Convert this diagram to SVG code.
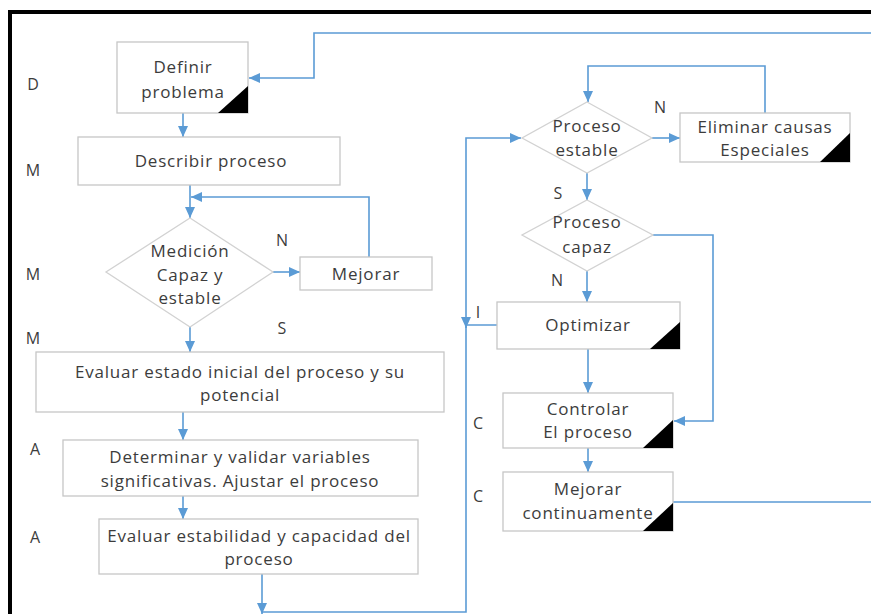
<svg xmlns="http://www.w3.org/2000/svg" width="871" height="614" viewBox="0 0 871 614">
  <style>
    .box { fill: #ffffff; stroke: #c6c6c6; stroke-width: 1.3; }
    .dia { fill: #ffffff; stroke: #d2d2d2; stroke-width: 1.3; }
    .tri { fill: #000000; }
    .t { font-family: "Open Sans", "Noto Sans", "Liberation Sans", sans-serif; font-size: 17px; letter-spacing: 0.8px; fill: #3c3c3c; text-anchor: middle; }
    .lab { font-family: "Open Sans", "Noto Sans", "Liberation Sans", sans-serif; font-size: 16px; fill: #3c3c3c; text-anchor: middle; }
    .con { fill: none; stroke: #5b9bd5; stroke-width: 1.6; marker-end: url(#arr); }
  </style>
  <defs>
    <marker id="arr" markerUnits="userSpaceOnUse" markerWidth="11" markerHeight="10" refX="11" refY="5" orient="auto">
      <path d="M0,0 L11,5 L0,10 z" fill="#5b9bd5"/>
    </marker>
  </defs>

  <rect x="0" y="0" width="871" height="614" fill="#ffffff"/>
  <!-- frame -->
  <rect x="10" y="12" width="900" height="700" fill="none" stroke="#000000" stroke-width="4"/>

  <!-- phase letters -->
  <g id="phases">
    <text class="lab" x="33" y="90">D</text>
    <text class="lab" x="33" y="176">M</text>
    <text class="lab" x="33" y="280">M</text>
    <text class="lab" x="33" y="344">M</text>
    <text class="lab" x="35" y="455">A</text>
    <text class="lab" x="35" y="543">A</text>
    <text class="lab" x="478" y="429">C</text>
    <text class="lab" x="478" y="502">C</text>
  </g>

  <!-- branch labels -->
  <g id="branch-labels">
    <text class="lab" x="282" y="246">N</text>
    <text class="lab" x="282" y="334">S</text>
    <text class="lab" x="660" y="113">N</text>
    <text class="lab" x="558" y="199">S</text>
    <text class="lab" x="557" y="286">N</text>
    <text class="lab" x="478" y="318">I</text>
  </g>

  <!-- connectors -->
  <g id="connectors">
    <path class="con" d="M673,502 H885 V33 H314 V78 H249"/>
    <path class="con" d="M183,113 V137"/>
    <path class="con" d="M190,185 V218"/>
    <path class="con" d="M273,272 H300"/>
    <path class="con" d="M369,257 V197 H191"/>
    <path class="con" d="M190,327 V352"/>
    <path class="con" d="M183,412 V440"/>
    <path class="con" d="M183,496 V519"/>
    <path class="con" d="M262,574 V614"/>
    <path class="con" d="M262,612 H466 V138 H521"/>
    <path class="con" d="M497,325 H466 V328"/>
    <path class="con" d="M652,138 H680"/>
    <path class="con" d="M765,113 V66 H588 V102"/>
    <path class="con" d="M587,173 V200"/>
    <path class="con" d="M587,271 V302"/>
    <path class="con" d="M653,235 H713 V421 H674"/>
    <path class="con" d="M588,349 V393"/>
    <path class="con" d="M588,448 V472"/>
  </g>

  <g id="definir">
    <rect class="box" x="117" y="42" width="131" height="71"/>
    <polygon class="tri" points="218,113 248,113 248,86"/>
    <text class="t" x="183" y="73">Definir</text>
    <text class="t" x="183" y="98">problema</text>
  </g>

  <g id="describir">
    <rect class="box" x="78" y="137" width="262" height="48"/>
    <text class="t" x="211" y="167">Describir proceso</text>
  </g>

  <g id="medicion">
    <polygon class="dia" points="190,218 273,272 190,327 106,272"/>
    <text class="t" x="190" y="257">Medición</text>
    <text class="t" x="190" y="281">Capaz y</text>
    <text class="t" x="190" y="304">estable</text>
  </g>

  <g id="mejorar">
    <rect class="box" x="300" y="257" width="132" height="33"/>
    <text class="t" x="366" y="280">Mejorar</text>
  </g>

  <g id="evaluar-estado">
    <rect class="box" x="36" y="352" width="408" height="60"/>
    <text class="t" x="240" y="378">Evaluar estado inicial del proceso y su</text>
    <text class="t" x="240" y="401">potencial</text>
  </g>

  <g id="determinar">
    <rect class="box" x="63" y="440" width="355" height="56"/>
    <text class="t" x="240" y="463">Determinar y validar variables</text>
    <text class="t" x="240" y="487">significativas. Ajustar el proceso</text>
  </g>

  <g id="evaluar-estabilidad">
    <rect class="box" x="99" y="519" width="319" height="55"/>
    <text class="t" x="259" y="542">Evaluar estabilidad y capacidad del</text>
    <text class="t" x="259" y="565">proceso</text>
  </g>

  <g id="proceso-estable">
    <polygon class="dia" points="587,102 652,138 587,173 522,138"/>
    <text class="t" x="587" y="132">Proceso</text>
    <text class="t" x="587" y="156">estable</text>
  </g>

  <g id="eliminar">
    <rect class="box" x="680" y="113" width="170" height="49"/>
    <polygon class="tri" points="820,162 850,162 850,133"/>
    <text class="t" x="765" y="133">Eliminar causas</text>
    <text class="t" x="765" y="156">Especiales</text>
  </g>

  <g id="proceso-capaz">
    <polygon class="dia" points="587,200 653,235 587,271 522,235"/>
    <text class="t" x="587" y="228">Proceso</text>
    <text class="t" x="587" y="253">capaz</text>
  </g>

  <g id="optimizar">
    <rect class="box" x="497" y="302" width="183" height="47"/>
    <polygon class="tri" points="650,349 680,349 680,322"/>
    <text class="t" x="588" y="331">Optimizar</text>
  </g>

  <g id="controlar">
    <rect class="box" x="503" y="393" width="170" height="55"/>
    <polygon class="tri" points="643,448 673,448 673,420"/>
    <text class="t" x="588" y="415">Controlar</text>
    <text class="t" x="588" y="438">El proceso</text>
  </g>

  <g id="mejorar-continuamente">
    <rect class="box" x="503" y="472" width="170" height="59"/>
    <polygon class="tri" points="643,531 673,531 673,503"/>
    <text class="t" x="588" y="495">Mejorar</text>
    <text class="t" x="588" y="519">continuamente</text>
  </g>
</svg>
